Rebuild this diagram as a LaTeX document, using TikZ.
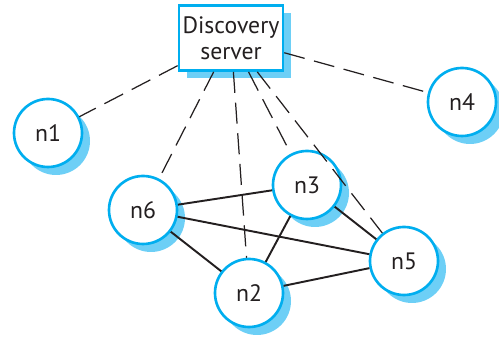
\documentclass[tikz,border=0pt]{standalone}
\usepackage{fontspec}
\setmainfont{PT Sans}
\usepackage{tikz}
\usetikzlibrary{shadows}
\definecolor{dsCyan}{HTML}{00AEEF}
\definecolor{dsShade}{HTML}{6DCFF6}
\definecolor{dsInk}{HTML}{231F20}
\tikzset{
  dsShadow/.style={drop shadow={shadow xshift=0.16cm, shadow yshift=-0.16cm, fill=dsShade, opacity=1}},
  serverBox/.style={draw=dsCyan, line width=1.6pt, fill=white, dsShadow, align=center,
    minimum width=2.02cm, minimum height=1.3cm, inner sep=2pt, text=dsInk,
    font=\fontsize{13.5}{15}\selectfont},
  peerNode/.style={circle, draw=dsCyan, line width=1.5pt, fill=white, dsShadow,
    minimum size=1.36cm, inner sep=0pt, text=dsInk, font=\fontsize{13.5}{15}\selectfont},
  lookupLink/.style={draw=dsInk, line width=0.7pt, dash pattern=on 12pt off 5.5pt},
  peerLink/.style={draw=dsInk, line width=1.1pt}
}

\begin{document}
\begin{tikzpicture}
  \useasboundingbox (0,0) rectangle (9.98,6.76);
  \node[serverBox] (srv) at (4.62,6.00) {Discovery\\server};
  \node[peerNode] (n1) at (0.96,4.10) {n1};
  \node[peerNode] (n4) at (9.24,4.72) {n4};
  \node[peerNode] (n6) at (2.86,2.56) {n6};
  \node[peerNode] (n3) at (6.14,3.06) {n3};
  \node[peerNode] (n5) at (8.08,1.54) {n5};
  \node[peerNode] (n2) at (4.98,0.90) {n2};
  \foreach \p in {n1,n4,n6,n2,n3,n5} \draw[lookupLink] (srv) -- (\p);
  \foreach \a/\b in {n6/n3,n6/n5,n6/n2,n3/n2,n3/n5,n2/n5} \draw[peerLink] (\a) -- (\b);
\end{tikzpicture}
\end{document}
